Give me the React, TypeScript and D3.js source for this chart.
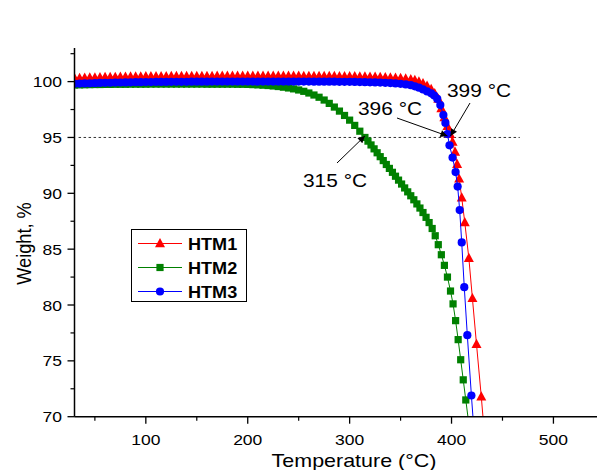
import React from 'react';
import * as d3 from 'd3';

// ---------- data ----------
const htm1T = [30,35,40,45,50,55,60,65,70,75,80,85,90,95,100,105,110,115,120,125,130,135,140,145,150,155,160,165,170,175,180,185,190,195,200,205,210,215,220,225,230,235,240,245,250,255,260,265,270,275,280,285,290,295,300,305,310,315,320,325,330,335,340,345,350,355,360,364,368,372,376,380,383.5,387,390,393,396,398.5,401,403.5,405.5,407.5,410,413,417,420.5,424.5,429.2,432.5];
const htm1W = [100.30,100.32,100.33,100.35,100.36,100.38,100.39,100.40,100.41,100.42,100.43,100.44,100.45,100.45,100.46,100.46,100.47,100.47,100.47,100.48,100.48,100.48,100.48,100.49,100.49,100.49,100.49,100.49,100.50,100.50,100.50,100.50,100.50,100.50,100.50,100.50,100.50,100.50,100.50,100.50,100.50,100.50,100.50,100.50,100.50,100.49,100.49,100.49,100.49,100.48,100.48,100.48,100.47,100.47,100.46,100.46,100.45,100.44,100.43,100.42,100.40,100.38,100.36,100.33,100.30,100.26,100.20,100.12,100.00,99.84,99.62,99.32,98.95,98.45,97.6,96.8,96.0,95.3,94.6,93.7,92.6,91.3,89.6,87.4,84.2,80.6,76.5,71.8,68.2];

const htm2T = [30,35,40,45,50,55,60,65,70,75,80,85,90,95,100,105,110,115,120,125,130,135,140,145,150,155,160,165,170,175,180,185,190,195,200,205,210,215,220,225,230,235,240,245,250,255,260,265,270,275,280,285,290,295,300,305,310,315,318,321,324,327,330,333,336,339,342,345,348,351,354,357,360,363,366,369,372,375,378,381,384,387,390,393,396,399,401.5,404,406.5,409,411.5,414,416.5,419];
const htm2W = [99.70,99.71,99.72,99.73,99.74,99.74,99.75,99.75,99.76,99.76,99.76,99.77,99.77,99.77,99.77,99.78,99.78,99.78,99.78,99.78,99.78,99.78,99.78,99.78,99.78,99.78,99.77,99.77,99.77,99.77,99.77,99.77,99.76,99.76,99.75,99.73,99.71,99.68,99.65,99.61,99.56,99.50,99.43,99.35,99.25,99.13,98.98,98.80,98.60,98.35,98.05,97.72,97.36,96.97,96.55,96.08,95.56,95.0,94.67,94.33,93.98,93.63,93.28,92.93,92.58,92.23,91.88,91.53,91.18,90.83,90.48,90.13,89.78,89.42,89.05,88.68,88.28,87.85,87.38,86.85,86.2,85.4,84.5,83.55,82.5,81.25,80.1,78.6,76.9,75.1,73.3,71.5,69.7,67.8];

const htm3T = [30,35,40,45,50,55,60,65,70,75,80,85,90,95,100,105,110,115,120,125,130,135,140,145,150,155,160,165,170,175,180,185,190,195,200,205,210,215,220,225,230,235,240,245,250,255,260,265,270,275,280,285,290,295,300,305,310,315,320,325,330,335,340,345,350,355,360,364,368,372,376,380,383,386,389,392,394,396,398,401,404,406,408,410,412.5,415.5,419.5,423];
const htm3W = [99.80,99.82,99.84,99.85,99.86,99.88,99.89,99.90,99.91,99.92,99.93,99.94,99.95,99.95,99.96,99.96,99.97,99.97,99.97,99.98,99.98,99.98,99.98,99.99,99.99,99.99,99.99,100.0,100.0,100.0,100.0,100.0,100.0,100.0,100.0,100.0,100.0,100.0,100.0,100.0,100.0,100.0,100.0,100.0,100.0,100.0,100.0,99.99,99.99,99.99,99.99,99.99,99.98,99.98,99.98,99.97,99.96,99.95,99.94,99.93,99.91,99.89,99.87,99.84,99.80,99.75,99.68,99.58,99.46,99.30,99.12,98.95,98.75,98.45,97.9,97.0,96.3,95.3,94.3,93.2,91.9,90.6,88.5,85.6,81.6,77.3,71.9,67.5];

const seriesNames = ['HTM1', 'HTM2', 'HTM3'];
const seriesColors = ['#ff0000', '#008000', '#0000ff'];
const seriesShapes = ['triangle', 'square', 'circle'];

const xMajorTicks = [100, 200, 300, 400, 500];
const xMinorTicks = [50, 150, 250, 350, 450, 550];
const yMajorTicks = [70, 75, 80, 85, 90, 95, 100];
const yMinorTicks = [72.5, 77.5, 82.5, 87.5, 92.5, 97.5, 102.5];

const annotations = [
  { label: '399 °C', t: 399, w: 95 },
  { label: '396 °C', t: 396, w: 95 },
  { label: '315 °C', t: 315, w: 95 },
];

// ---------- layout ----------
const W = 597;
const H = 470;
const SX = 1.13; // horizontal stretch of the reference's text
const FONT = "'Liberation Sans', Arial, Helvetica, sans-serif";

const x = d3.scaleLinear().domain([30, 550]).range([74.5, 74.5 + 520 * 1.019]);
const y = d3.scaleLinear().domain([70, 103]).range([416.7, 48.1]);

function Marker({ shape, cx, cy, color }: { shape: string; cx: number; cy: number; color: string }) {
  if (shape === 'triangle') {
    const p = `M${cx},${cy - 5.4} L${cx + 5},${cy + 3.8} L${cx - 5},${cy + 3.8} Z`;
    return <path d={p} fill={color} />;
  }
  if (shape === 'square') {
    return <rect x={cx - 3.6} y={cy - 3.6} width={7.2} height={7.2} fill={color} />;
  }
  return <circle cx={cx} cy={cy} r={4.1} fill={color} />;
}

function SText({ x: tx, y: ty, children, size, anchor = 'start', weight = 'normal', rotate = 0 }: any) {
  return (
    <text
      transform={`translate(${tx},${ty}) scale(${SX},1)${rotate ? ` rotate(${rotate})` : ''}`}
      fontFamily={FONT}
      fontSize={size}
      fontWeight={weight}
      textAnchor={anchor}
      fill="#000"
    >
      {children}
    </text>
  );
}

export default function App() {
  const series = [
    { T: htm1T, Wt: htm1W },
    { T: htm2T, Wt: htm2W },
    { T: htm3T, Wt: htm3W },
  ];
  const line = d3
    .line<[number, number]>()
    .x((d) => x(d[0]))
    .y((d) => y(d[1]));

  const x0 = x(30);
  const yBottom = y(70);
  const yTop = y(103);

  const arrowTails = [
    [470, 103],
    [397, 118],
    [337, 163],
  ];
  const labelPos = [
    [447, 97],
    [358, 115],
    [303, 187],
  ];

  return (
    <svg
      width={W}
      height={H}
      viewBox={`0 0 ${W} ${H}`}
      style={{ position: 'absolute', left: 0, top: 0, background: '#fff' }}
    >
      <defs>
        <clipPath id="plot">
          <rect x={x0} y={yTop - 10} width={W - x0} height={yBottom - yTop + 10} />
        </clipPath>
        <marker id="arrow" viewBox="0 0 10 10" refX="10" refY="5" markerWidth="9" markerHeight="7" orient="auto" markerUnits="userSpaceOnUse">
          <path d="M0,0 L10,5 L0,10 Z" fill="#000" />
        </marker>
      </defs>
      <rect x={0} y={0} width={W} height={H} fill="#fff" />

      {/* 95 % reference line */}
      <line x1={x(34)} x2={x(467)} y1={y(95)} y2={y(95)} stroke="#333" strokeWidth={1} strokeDasharray="2.5,2.5" />

      <g clipPath="url(#plot)">
        {series.map((s, i) => {
          const pts: [number, number][] = s.T.map((t, k) => [t, s.Wt[k]]);
          return (
            <g key={i}>
              <path d={line(pts) || ''} fill="none" stroke={seriesColors[i]} strokeWidth={1} />
              {pts.map((p, k) => (
                <Marker key={k} shape={seriesShapes[i]} cx={x(p[0])} cy={y(p[1])} color={seriesColors[i]} />
              ))}
            </g>
          );
        })}
      </g>

      {/* axes */}
      <line x1={x0} x2={x0} y1={yTop} y2={yBottom} stroke="#000" strokeWidth={1.5} />
      <line x1={x0} x2={W} y1={yBottom} y2={yBottom} stroke="#000" strokeWidth={1.5} />
      {yMajorTicks.map((v) => (
        <g key={'ym' + v}>
          <line x1={x0 - 7} x2={x0} y1={y(v)} y2={y(v)} stroke="#000" strokeWidth={1.3} />
          <SText x={62} y={y(v) + 5.6} size={15.5} anchor="end">{v}</SText>
        </g>
      ))}
      {yMinorTicks.map((v) => (
        <line key={'yn' + v} x1={x0 - 4} x2={x0} y1={y(v)} y2={y(v)} stroke="#000" strokeWidth={1.2} />
      ))}
      {xMajorTicks.map((v) => (
        <g key={'xm' + v}>
          <line x1={x(v)} x2={x(v)} y1={yBottom} y2={yBottom + 7} stroke="#000" strokeWidth={1.3} />
          <SText x={x(v)} y={445} size={15.5} anchor="middle">{v}</SText>
        </g>
      ))}
      {xMinorTicks.map((v) => (
        <line key={'xn' + v} x1={x(v)} x2={x(v)} y1={yBottom} y2={yBottom + 4} stroke="#000" strokeWidth={1.2} />
      ))}

      <SText x={354} y={467} size={19} anchor="middle">Temperature (°C)</SText>
      <SText x={30.5} y={243.5} size={18.2} anchor="middle" rotate={-90}>Weight, %</SText>

      {/* annotations */}
      {annotations.map((a, i) => (
        <g key={a.label}>
          <line
            x1={arrowTails[i][0]}
            y1={arrowTails[i][1]}
            x2={x(a.t)}
            y2={y(a.w) - 1.5}
            stroke="#000"
            strokeWidth={1}
            markerEnd="url(#arrow)"
          />
          <SText x={labelPos[i][0]} y={labelPos[i][1]} size={18.5}>{a.label}</SText>
        </g>
      ))}

      {/* legend */}
      <rect x={131.5} y={229.5} width={115} height={72} fill="#fff" stroke="#000" strokeWidth={1} />
      {seriesNames.map((n, i) => {
        const ly = 243.5 + i * 24;
        return (
          <g key={n}>
            <line x1={138} x2={182} y1={ly} y2={ly} stroke={seriesColors[i]} strokeWidth={1} />
            <Marker shape={seriesShapes[i]} cx={160} cy={ly} color={seriesColors[i]} />
            <SText x={188} y={ly + 6} size={16} weight="bold">{n}</SText>
          </g>
        );
      })}
    </svg>
  );
}
